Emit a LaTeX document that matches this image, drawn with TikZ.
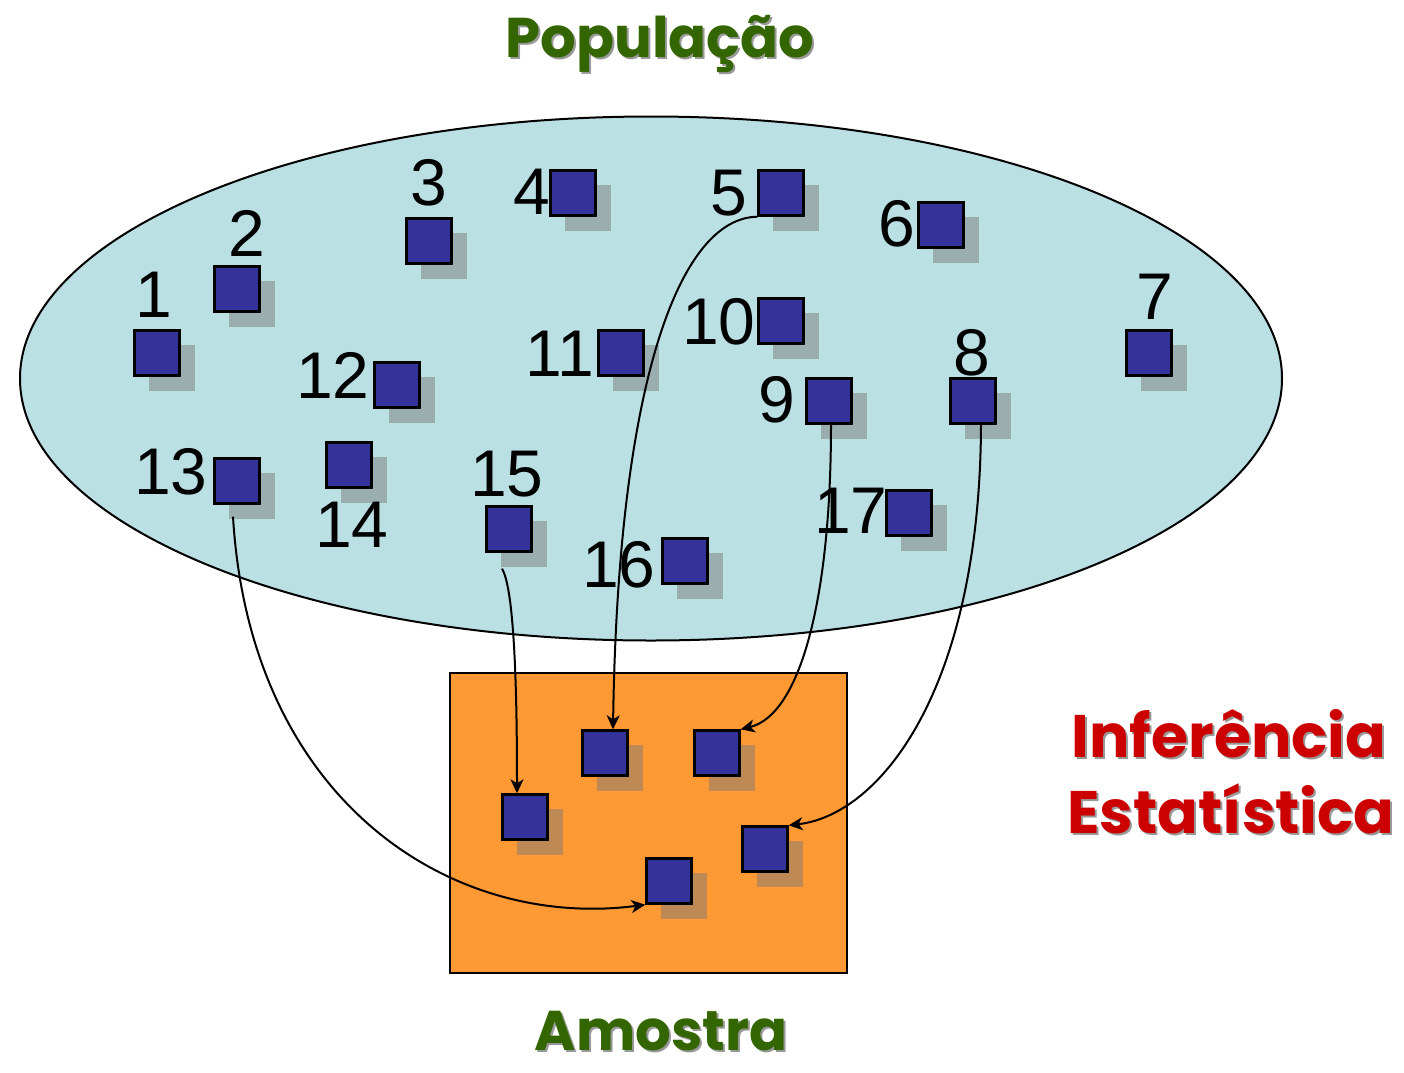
\documentclass[tikz,border=0pt]{standalone}
\usepackage{fontspec}
\setmainfont{Liberation Sans}
\newfontfamily\titlefont{Poppins}
\usepackage{xcolor}
\usetikzlibrary{arrows.meta,shadows,positioning}

\definecolor{popcyan}{HTML}{BAE0E4}
\definecolor{amoorange}{HTML}{FF9933}
\definecolor{unitblue}{HTML}{333399}
\definecolor{titlegreen}{HTML}{336600}
\definecolor{infred}{HTML}{CC0000}
\definecolor{shadegray}{RGB}{121,121,121}

\tikzset{
  unit/.style={draw=black, line width=1.2pt, fill=unitblue, minimum size=22.5pt,
    inner sep=0pt, drop shadow={shadow xshift=7.3pt, shadow yshift=-7.3pt,
    shadow scale=1.03, fill=shadegray, opacity=0.48}},
  num/.style={inner sep=0pt, font=\fontsize{33pt}{33pt}\selectfont},
  ttl/.style={inner sep=0pt, anchor=base, font=\titlefont\bfseries\fontsize{28pt}{30pt}\selectfont},
  redttl/.style={ttl, font=\titlefont\bfseries\fontsize{30pt}{30pt}\selectfont},
  ttlshade/.style={text=black, opacity=0.4},
  pick/.style={line width=1pt, -{Stealth[length=7pt,width=6.5pt,inset=2pt]}}
}

\begin{document}
\begin{tikzpicture}[x=0.5pt,y=-0.5pt]
                    \useasboundingbox (0,0) rectangle (1404,1072);%

                    % Drawing population ellipse
                    \draw [line width=1pt, fill=popcyan] (651,378.5) ellipse [x radius=315.5pt, y radius=131pt];%

                    % Drawing sample rectangle
                    \draw [line width=1pt, fill=amoorange] (450,673) rectangle (847,973);%

                    % Drawing population units
                    \node [unit] (u1) at (157,353) {};%
                    \node [unit] (u2) at (237,289) {};%
                    \node [unit] (u3) at (429,241) {};%
                    \node [unit] (u4) at (573,193) {};%
                    \node [unit] (u5) at (781,193) {};%
                    \node [unit] (u6) at (941,225) {};%
                    \node [unit] (u7) at (1149,353) {};%
                    \node [unit] (u8) at (973,401) {};%
                    \node [unit] (u9) at (829,401) {};%
                    \node [unit] (u10) at (781,321) {};%
                    \node [unit] (u11) at (621,353) {};%
                    \node [unit] (u12) at (397,385) {};%
                    \node [unit] (u13) at (237,481) {};%
                    \node [unit] (u14) at (349,465) {};%
                    \node [unit] (u15) at (509,529) {};%
                    \node [unit] (u16) at (685,561) {};%
                    \node [unit] (u17) at (909,513) {};%

                    % Marking unit numbers
                    \node [num] (n1) at (154,295) {1};%
                    \node [num] (n2) at (247,233) {2};%
                    \node [num] (n3) at (429,183) {3};%
                    \node [num] (n4) at (532,192) {4};%
                    \node [num] (n5) at (729,193) {5};%
                    \node [num] (n6) at (897,224) {6};%
                    \node [num] (n7) at (1155,297) {7};%
                    \node [num] (n8) at (972,353) {8};%
                    \node [num] (n9) at (777,400) {9};%
                    \node [num] (n10) at (719,322) {10};%
                    \node [num] (n11) at (560,354) {11};%
                    \node [num] (n12) at (333,375) {12};%
                    \node [num] (n13) at (171,472) {13};%
                    \node [num] (n14) at (352,525) {14};%
                    \node [num] (n15) at (507,474) {15};%
                    \node [num] (n16) at (619,565) {16};%
                    \node [num] (n17) at (851,511) {17};%

                    % Drawing sample units
                    \node [unit] (sa) at (605,753) {};%
                    \node [unit] (sb) at (717,753) {};%
                    \node [unit] (sc) at (525,817) {};%
                    \node [unit] (sd) at (765,849) {};%
                    \node [unit] (se) at (669,881) {};%

                    % Drawing arrow 5 to sample
                    \draw [pick] (u5.south west) .. controls (680,218) and (618,380) .. ([xshift=4pt]sa.north);%

                    % Drawing arrow 9 to sample
                    \draw [pick] ([xshift=1pt]u9.south) .. controls (831,600) and (800,715) .. (sb.north east);%

                    % Drawing arrow 8 to sample
                    \draw [pick] ([xshift=4pt]u8.south) .. controls (980,690) and (880,815) .. (sd.north east);%

                    % Drawing arrow 15 to sample
                    \draw [pick] ([xshift=-3.5pt,yshift=-8pt]u15.south) .. controls (515,590) and (517,700) .. ([xshift=-4pt]sc.north);%

                    % Drawing arrow 13 to sample
                    \draw [pick] ([xshift=-2pt,yshift=-6pt]u13.south) .. controls (250,800) and (450,930) .. (se.south west);%

                    % Marking titles
                    \node [ttl, ttlshade] (popshade) at (662,59) {População};%
                    \node [ttl, text=titlegreen] (pop) at (660,57) {População};%
                    \node [ttl, ttlshade] (amoshade) at (663,1052) {Amostra};%
                    \node [ttl, text=titlegreen] (amo) at (661,1050) {Amostra};%
                    \node [redttl, ttlshade] (infshade) at (1231,759) {Inferência};%
                    \node [redttl, text=infred] (inf) at (1229,757) {Inferência};%
                    \node [redttl, ttlshade] (estshade) at (1233,835) {Estatística};%
                    \node [redttl, text=infred] (est) at (1231,833) {Estatística};%
                    \end{tikzpicture}
\end{document}
